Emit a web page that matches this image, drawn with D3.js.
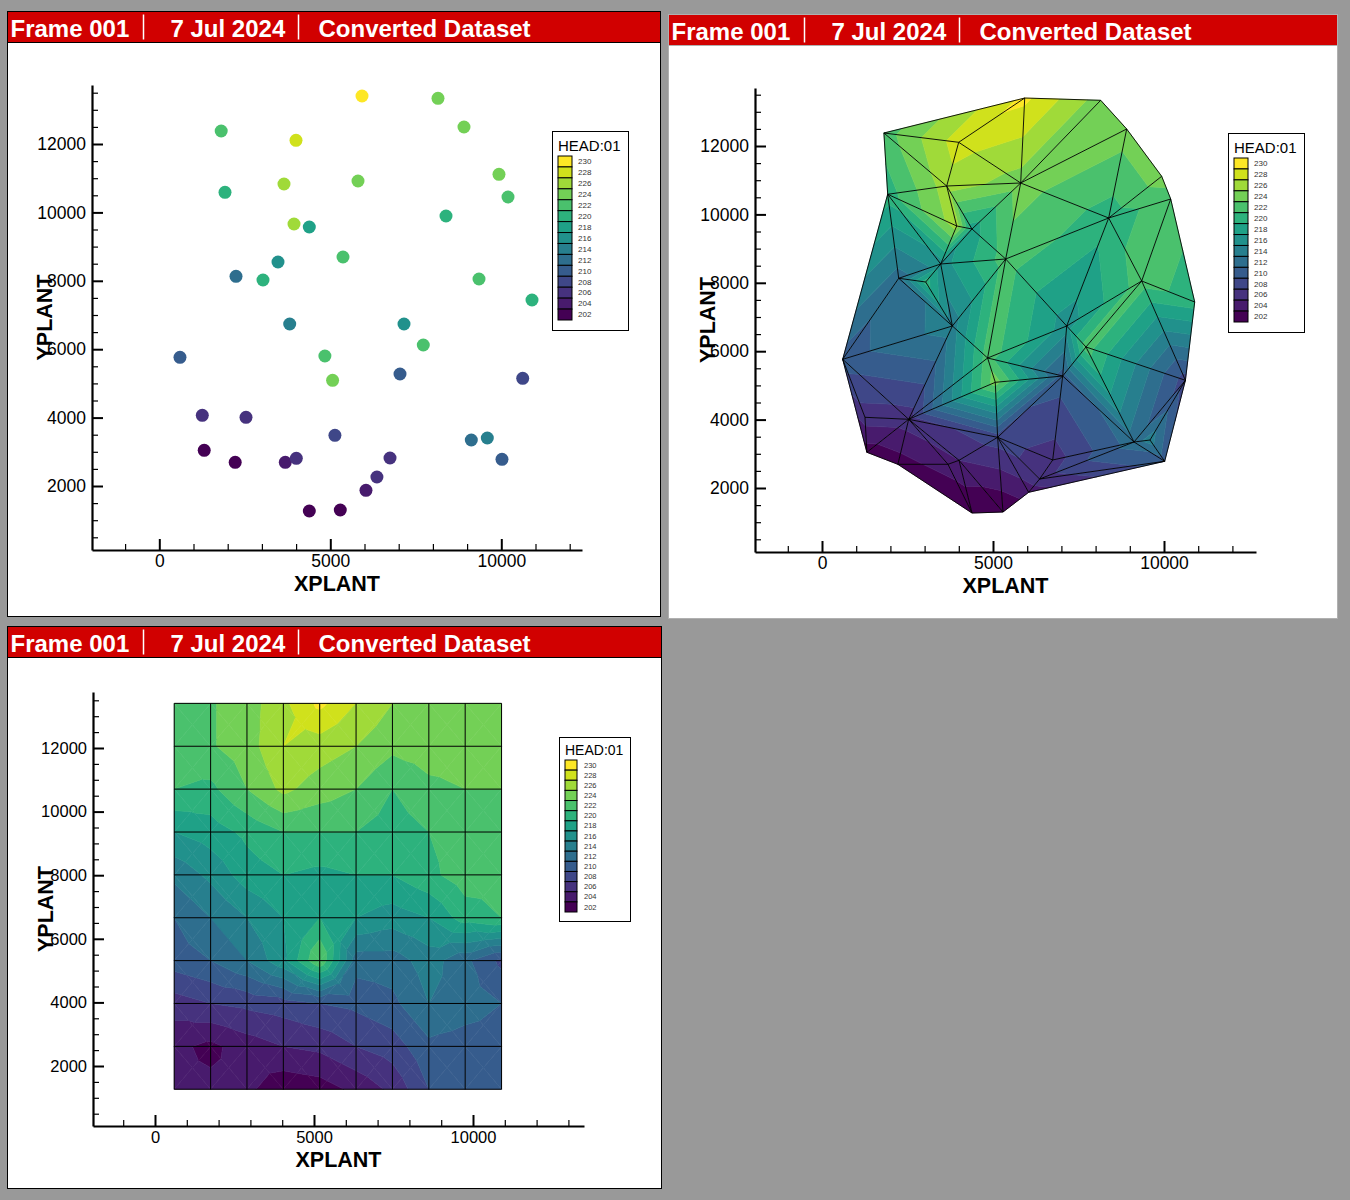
<!DOCTYPE html>
<html>
<head>
<meta charset="utf-8">
<script src="https://cdn.jsdelivr.net/npm/d3@7"></script>
<style>
  body { margin: 0; background: #999999; }
  svg { display: block; }
  text { font-family: "Liberation Sans", Arial, Helvetica, sans-serif; }
</style>
</head>
<body>
<svg id="chart" width="1350" height="1200"></svg>
<script>
// ---- data ----
// observation wells: XPLANT, YPLANT, HEAD
var wellX = [5927, 1810, 3997, 3646, 5810, 1921, 3939, 4386, 5371, 3471, 2243, 3032, 3813, 8149,
  8909, 9932, 10196, 8383, 9348, 10898, 7155, 605, 4842, 5067, 1257, 2535, 5135, 1313,
  2219, 3684, 4006, 6043, 6363, 4386, 5292, 7719, 7038, 10626, 6746, 9123, 9591, 10020];
var wellY = [13403, 12380, 12108, 10830, 10918, 10588, 9661, 9573, 8696, 8550, 8132, 8023, 6737, 13336,
  12497, 11114, 10450, 9895, 8053, 7439, 6737, 5763, 5801, 5090, 4067, 4009, 3482, 3044,
  2693, 2693, 2810, 1874, 2263, 1269, 1298, 6123, 5275, 5149, 2819, 3345, 3403, 2781];
var wellHead = [230.5, 223, 229, 227, 225, 221, 227, 219, 223, 217, 213, 221, 215, 225,
  225, 225, 223, 221, 223, 221, 217, 211, 223, 225, 207, 207, 209, 203,
  203, 205, 206, 205, 207, 202, 202, 223, 211, 209, 207, 213, 215, 211];

// structured grid (panel 3): node coordinates and HEAD, rows from top (north) to bottom
var gridX = [605, 1749, 2892, 4036, 5180, 6323, 7467, 8611, 9754, 10898];
var gridY = [13403, 12055, 10707, 9358, 8010, 6662, 5314, 3966, 2617, 1269];
var gridHead = [
  [223, 223.8, 225, 227.5, 230.5, 228, 226, 225, 225, 224.5],
  [223, 223.8, 225, 228, 227, 226, 224.5, 225, 225, 225],
  [222, 221.5, 224, 226.5, 225, 224, 222, 223.5, 224, 224],
  [218, 219, 220.5, 222, 222, 222, 221, 222, 223, 223],
  [214.5, 216.5, 219, 220, 219.5, 220, 220, 221.5, 223, 222.5],
  [212, 214, 216, 218, 220, 218, 217, 218, 221, 222],
  [211, 212, 214, 217.5, 224, 213, 213, 215, 212.5, 209.5],
  [207, 208, 208.5, 209, 210, 210.5, 211.5, 214, 213, 212],
  [204.5, 203.5, 205, 206, 206.5, 208, 209, 211.5, 211, 211],
  [204.5, 204.5, 204.5, 202.5, 203, 204.5, 206.5, 210, 211, 211]
];

var levels = [202, 204, 206, 208, 210, 212, 214, 216, 218, 220, 222, 224, 226, 228, 230];
var xMajor = [0, 5000, 10000];
var yMajor = [2000, 4000, 6000, 8000, 10000, 12000];
var headerTexts = ["Frame 001", "7 Jul 2024", "Converted Dataset"];
var legendTitle = "HEAD:01";

// ---- layout ----
var panels = [
  { fx: 7.5, fy: 11.5, fw: 653, fh: 605, border: "#000",
    x0: 159.3, y0: 554.4, k: 0.0342, left: 92, right: 582, top: 85, bottom: 550, tickFont: 17.5,
    lg: { x: 552, y: 131, w: 76, h: 199, sx: 558, sw: 14, st: 156, sb: 320, lx: 578, tf: 15, lf: 8 } },
  { fx: 668.5, fy: 14.5, fw: 669, fh: 604, border: "#b0b0b0",
    x0: 822, y0: 556.4, k: 0.0342, left: 755, right: 1256, top: 88, bottom: 552, tickFont: 17.5,
    lg: { x: 1228, y: 133, w: 76, h: 199, sx: 1234, sw: 14, st: 158, sb: 322, lx: 1254, tf: 15, lf: 8 } },
  { fx: 7.5, fy: 626.5, fw: 654, fh: 562, border: "#000",
    x0: 155, y0: 1129.6, k: 0.0318, left: 93, right: 584, top: 692, bottom: 1126, tickFont: 16.5,
    lg: { x: 559, y: 737, w: 71, h: 184, sx: 565, sw: 12, st: 760, sb: 912, lx: 584, tf: 14, lf: 7.5 } }
];

var svg = d3.select("#chart");

function bandIndex(v) { return Math.max(0, Math.min(levels.length - 1, Math.floor((v - levels[0]) / 2))); }
function bandColor(k) { return d3.interpolateViridis(k / (levels.length - 1)); }

function drawFrame(p) {
  var g = svg.append("g");
  g.append("rect").attr("x", p.fx).attr("y", p.fy).attr("width", p.fw).attr("height", p.fh)
    .attr("fill", "#fff").attr("stroke", p.border).attr("stroke-width", 1);
  g.append("rect").attr("x", p.fx).attr("y", p.fy).attr("width", p.fw).attr("height", 31)
    .attr("fill", "#d10000").attr("stroke", p.border).attr("stroke-width", 1);
  var offs = [3, 163, 311];
  headerTexts.forEach(function (t, i) {
    g.append("text").attr("x", p.fx + offs[i]).attr("y", p.fy + 25.5)
      .attr("fill", "#fff").attr("font-size", 24).attr("font-weight", "bold").text(t);
  });
  [136, 291].forEach(function (o) {
    g.append("line").attr("x1", p.fx + o).attr("x2", p.fx + o)
      .attr("y1", p.fy + 3).attr("y2", p.fy + 28).attr("stroke", "#fff").attr("stroke-width", 1.5);
  });
}

function makeScales(p) {
  var x = d3.scaleLinear().domain([(p.left - p.x0) / p.k, (p.right - p.x0) / p.k]).range([p.left, p.right]);
  var y = d3.scaleLinear().domain([(p.y0 - p.bottom) / p.k, (p.y0 - p.top) / p.k]).range([p.bottom, p.top]);
  return { x: x, y: y };
}

function drawAxes(p, s) {
  var xd = s.x.domain(), yd = s.y.domain();
  var xMinor = d3.range(Math.ceil(xd[0] / 1000) * 1000, xd[1], 1000).filter(function (v) { return v % 5000 !== 0; });
  var yMinor = d3.range(Math.ceil(yd[0] / 500) * 500, yd[1], 500).filter(function (v) { return v % 2000 !== 0; });

  var gx = svg.append("g").attr("transform", "translate(0," + p.bottom + ")");
  gx.append("g").call(d3.axisBottom(s.x).tickValues(xMinor).tickSizeInner(-6).tickSizeOuter(0).tickFormat(""))
    .call(function (a) { a.select(".domain").remove(); a.selectAll("line").attr("stroke-width", 1.2); });
  gx.append("g").call(d3.axisBottom(s.x).tickValues(xMajor).tickSizeInner(-11).tickSizeOuter(0)
      .tickPadding(5).tickFormat(d3.format("d")))
    .call(function (a) {
      a.select(".domain").attr("stroke-width", 2.2);
      a.selectAll("line").attr("stroke-width", 2);
      a.selectAll("text").attr("font-size", p.tickFont).attr("font-family", null).attr("fill", "#000");
    });

  var gy = svg.append("g").attr("transform", "translate(" + p.left + ",0)");
  gy.append("g").call(d3.axisLeft(s.y).tickValues(yMinor).tickSizeInner(-6).tickSizeOuter(0).tickFormat(""))
    .call(function (a) { a.select(".domain").remove(); a.selectAll("line").attr("stroke-width", 1.2); });
  gy.append("g").call(d3.axisLeft(s.y).tickValues(yMajor).tickSizeInner(-11).tickSizeOuter(0)
      .tickPadding(6).tickFormat(d3.format("d")))
    .call(function (a) {
      a.select(".domain").attr("stroke-width", 2.2);
      a.selectAll("line").attr("stroke-width", 2);
      a.selectAll("text").attr("font-size", p.tickFont).attr("font-family", null).attr("fill", "#000");
    });

  svg.append("text").attr("x", (p.left + p.right) / 2).attr("y", p.bottom + 40.5)
    .attr("text-anchor", "middle").attr("font-size", 21.5).attr("font-weight", "bold").text("XPLANT");
  svg.append("text").attr("transform", "translate(" + (p.left - 40) + "," + (p.top + p.bottom) / 2 + ")rotate(-90)")
    .attr("text-anchor", "middle").attr("font-size", 21.5).attr("font-weight", "bold").text("YPLANT");
}

function drawLegend(p) {
  var L = p.lg;
  var g = svg.append("g");
  g.append("rect").attr("x", L.x + 0.5).attr("y", L.y + 0.5).attr("width", L.w).attr("height", L.h)
    .attr("fill", "#fff").attr("stroke", "#000").attr("stroke-width", 1);
  g.append("text").attr("x", L.sx).attr("y", L.st - 5).attr("font-size", L.tf).attr("fill", "#000").text(legendTitle);
  var sh = (L.sb - L.st) / levels.length;
  var rev = levels.slice().reverse();
  rev.forEach(function (lv, i) {
    var kk = levels.length - 1 - i;
    g.append("rect").attr("x", L.sx).attr("y", L.st + i * sh).attr("width", L.sw).attr("height", sh)
      .attr("fill", bandColor(kk)).attr("stroke", "#000").attr("stroke-width", 1);
    g.append("text").attr("x", L.lx).attr("y", L.st + i * sh + sh / 2).attr("dy", "0.35em")
      .attr("font-size", L.lf).attr("fill", "#333").text(lv);
  });
}

// split a triangle (pixel x, pixel y, value) into contour bands
function clipPoly(poly, level, keepAbove) {
  var out = [];
  for (var i = 0; i < poly.length; i++) {
    var a = poly[i], b = poly[(i + 1) % poly.length];
    var ain = keepAbove ? a[2] >= level : a[2] <= level;
    var bin = keepAbove ? b[2] >= level : b[2] <= level;
    if (ain) out.push(a);
    if (ain !== bin) {
      var t = (level - a[2]) / (b[2] - a[2]);
      out.push([a[0] + t * (b[0] - a[0]), a[1] + t * (b[1] - a[1]), level]);
    }
  }
  return out;
}
function floodTriangle(g, tri) {
  var n = levels.length;
  for (var kk = 0; kk < n; kk++) {
    var poly = tri;
    if (kk > 0) poly = clipPoly(poly, levels[kk], true);
    if (kk < n - 1 && poly.length) poly = clipPoly(poly, levels[kk + 1], false);
    if (poly.length >= 3) {
      g.append("path")
        .attr("d", "M" + poly.map(function (q) { return q[0] + "," + q[1]; }).join("L") + "Z")
        .attr("fill", bandColor(kk)).attr("stroke", bandColor(kk)).attr("stroke-width", 0.6);
    }
  }
}

panels.forEach(drawFrame);
var scales = panels.map(makeScales);

// ---- panel 1: scatter ----
(function () {
  var s = scales[0];
  svg.append("g").selectAll("circle").data(d3.range(wellX.length)).enter().append("circle")
    .attr("cx", function (i) { return s.x(wellX[i]); })
    .attr("cy", function (i) { return s.y(wellY[i]); })
    .attr("r", 6.5)
    .attr("fill", function (i) { return bandColor(bandIndex(wellHead[i])); });
})();

// ---- panel 2: triangulated flood ----
(function () {
  var s = scales[1];
  var idx = d3.range(wellX.length);
  var px = function (i) { return s.x(wellX[i]); }, py = function (i) { return s.y(wellY[i]); };
  var delaunay = d3.Delaunay.from(idx, px, py);
  var t = delaunay.triangles, tris = [];
  for (var i = 0; i < t.length; i += 3) tris.push([t[i], t[i + 1], t[i + 2]]);

  function edgeKeys(tr) {
    return [[tr[0], tr[1]], [tr[1], tr[2]], [tr[2], tr[0]]].map(function (e) { return Math.min(e[0], e[1]) + "-" + Math.max(e[0], e[1]); });
  }
  function circumR(tr) {
    var a = [px(tr[0]), py(tr[0])], b = [px(tr[1]), py(tr[1])], c = [px(tr[2]), py(tr[2])];
    var ab = Math.hypot(a[0] - b[0], a[1] - b[1]), bc = Math.hypot(b[0] - c[0], b[1] - c[1]), ca = Math.hypot(c[0] - a[0], c[1] - a[1]);
    var area = Math.abs((b[0] - a[0]) * (c[1] - a[1]) - (b[1] - a[1]) * (c[0] - a[0])) / 2;
    return ab * bc * ca / (4 * area);
  }
  // drop thin slivers along the outer boundary
  var keep = tris.map(function () { return true; });
  var changed = true;
  while (changed) {
    changed = false;
    var count = {};
    tris.forEach(function (tr, n) { if (keep[n]) edgeKeys(tr).forEach(function (e) { count[e] = (count[e] || 0) + 1; }); });
    tris.forEach(function (tr, n) {
      if (!keep[n]) return;
      var onHull = edgeKeys(tr).some(function (e) { return count[e] === 1; });
      if (onHull && circumR(tr) > 200) { keep[n] = false; changed = true; }
    });
  }
  var kept = tris.filter(function (tr, n) { return keep[n]; });

  var g = svg.append("g");
  kept.forEach(function (tr) {
    floodTriangle(g, tr.map(function (j) { return [px(j), py(j), wellHead[j]]; }));
  });
  var seen = {}, d = "";
  kept.forEach(function (tr) {
    [[tr[0], tr[1]], [tr[1], tr[2]], [tr[2], tr[0]]].forEach(function (e) {
      var key = Math.min(e[0], e[1]) + "-" + Math.max(e[0], e[1]);
      if (seen[key]) return;
      seen[key] = true;
      d += "M" + px(e[0]) + "," + py(e[0]) + "L" + px(e[1]) + "," + py(e[1]);
    });
  });
  svg.append("path").attr("d", d).attr("fill", "none").attr("stroke", "#000").attr("stroke-width", 0.9);
})();

// ---- panel 3: structured grid flood ----
(function () {
  var s = scales[2];
  var g = svg.append("g");
  for (var r = 0; r < gridY.length - 1; r++) {
    for (var c = 0; c < gridX.length - 1; c++) {
      var A = [s.x(gridX[c]), s.y(gridY[r]), gridHead[r][c]];
      var B = [s.x(gridX[c + 1]), s.y(gridY[r]), gridHead[r][c + 1]];
      var C = [s.x(gridX[c + 1]), s.y(gridY[r + 1]), gridHead[r + 1][c + 1]];
      var D = [s.x(gridX[c]), s.y(gridY[r + 1]), gridHead[r + 1][c]];
      var M = [(A[0] + C[0]) / 2, (A[1] + C[1]) / 2, (A[2] + B[2] + C[2] + D[2]) / 4];
      floodTriangle(g, [A, B, M]);
      floodTriangle(g, [B, C, M]);
      floodTriangle(g, [C, D, M]);
      floodTriangle(g, [D, A, M]);
    }
  }
  var x0 = s.x(gridX[0]), x1 = s.x(gridX[gridX.length - 1]);
  var y0 = s.y(gridY[0]), y1 = s.y(gridY[gridY.length - 1]);
  svg.append("g").selectAll("line.v").data(gridX).enter().append("line")
    .attr("x1", function (d) { return s.x(d); }).attr("x2", function (d) { return s.x(d); })
    .attr("y1", y0).attr("y2", y1).attr("stroke", "#000").attr("stroke-width", 1);
  svg.append("g").selectAll("line.h").data(gridY).enter().append("line")
    .attr("y1", function (d) { return s.y(d); }).attr("y2", function (d) { return s.y(d); })
    .attr("x1", x0).attr("x2", x1).attr("stroke", "#000").attr("stroke-width", 1);
})();

panels.forEach(function (p, i) { drawAxes(p, scales[i]); drawLegend(p); });
</script>
</body>
</html>
